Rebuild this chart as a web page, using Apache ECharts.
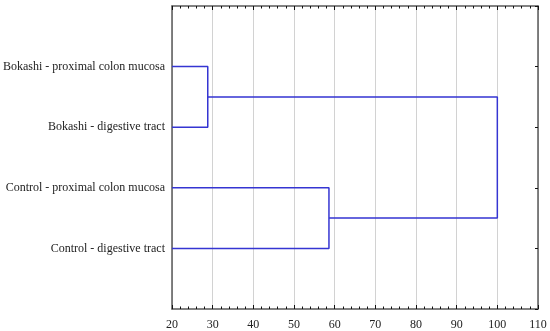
<!DOCTYPE html>
<html>
<head>
<meta charset="utf-8">
<script src="https://cdn.jsdelivr.net/npm/echarts@6/dist/echarts.min.js"></script>
<style>html,body{margin:0;padding:0;background:#fff}#c{width:550px;height:331px}</style>
</head>
<body>
<div id="c"></div>
<script>
// Leaves, top to bottom (positions 1..4)
const leaves = [
  'Bokashi - proximal colon mucosa',
  'Bokashi - digestive tract',
  'Control - proximal colon mucosa',
  'Control - digestive tract'
];
const leafPos = [1, 2, 3, 4];
// Linkage distances
const mergeBokashi = 28.8;
const mergeControl = 58.6;
const mergeAll = 100;
const xTicks = [20, 30, 40, 50, 60, 70, 80, 90, 100, 110];
const xMin = 20, xMax = 110;

const yB = (leafPos[0] + leafPos[1]) / 2;
const yC = (leafPos[2] + leafPos[3]) / 2;
const paths = [
  [[xMin, leafPos[0]], [mergeBokashi, leafPos[0]], [mergeBokashi, leafPos[1]], [xMin, leafPos[1]]],
  [[xMin, leafPos[2]], [mergeControl, leafPos[2]], [mergeControl, leafPos[3]], [xMin, leafPos[3]]],
  [[mergeBokashi, yB], [mergeAll, yB], [mergeAll, yC], [mergeControl, yC]]
];

const font = '"Liberation Serif", serif';
const axisColor = '#5a5a5a';
const lineColor = '#3535d2';

const chart = echarts.init(document.getElementById('c'), null, {renderer: 'canvas'});
function xAxisBase() {
  return {
    type: 'value', min: xMin, max: xMax, interval: 10,
    axisLine: {show: true, onZero: false, lineStyle: {color: axisColor, width: 1.5}},
    axisTick: {show: true, inside: true, length: 4, lineStyle: {color: '#111', width: 1}},
    minorTick: {show: true, splitNumber: 5, length: 2.5, lineStyle: {color: '#111', width: 1}},
  };
}
chart.setOption({
  animation: false,
  grid: {left: 169, right: 12, top: 6, bottom: 22, containLabel: false},
  xAxis: [
    Object.assign(xAxisBase(), {
      position: 'bottom',
      axisLabel: {show: true, color: '#222', fontFamily: font, fontSize: 12, margin: 10,
        formatter: v => xTicks.includes(v) ? String(v) : ''},
      splitLine: {show: true, lineStyle: {color: '#d2d2d2', width: 1}}
    }),
    Object.assign(xAxisBase(), {
      position: 'top',
      axisLabel: {show: false},
      splitLine: {show: false}
    })
  ],
  yAxis: [
    {
      type: 'value', min: 0, max: leaves.length + 1, interval: 1, inverse: true, position: 'left',
      axisLine: {show: true, onZero: false, lineStyle: {color: axisColor, width: 1.5}},
      axisTick: {show: false},
      axisLabel: {show: true, color: '#222', fontFamily: font, fontSize: 12, margin: 7,
        formatter: v => { const i = leafPos.indexOf(v); return i >= 0 ? leaves[i] : ''; }},
      splitLine: {show: false}
    },
    {
      type: 'value', min: 0, max: leaves.length + 1, interval: 1, inverse: true, position: 'right',
      axisLine: {show: true, onZero: false, lineStyle: {color: axisColor, width: 1.5}},
      axisTick: {show: true, inside: true, length: 3, lineStyle: {color: '#111'}},
      axisLabel: {show: false},
      splitLine: {show: false}
    }
  ],
  series: paths.map(p => ({
    type: 'line', data: p, xAxisIndex: 0, yAxisIndex: 0,
    symbol: 'none', silent: true,
    lineStyle: {color: lineColor, width: 1.5}
  }))
});
</script>
</body>
</html>
